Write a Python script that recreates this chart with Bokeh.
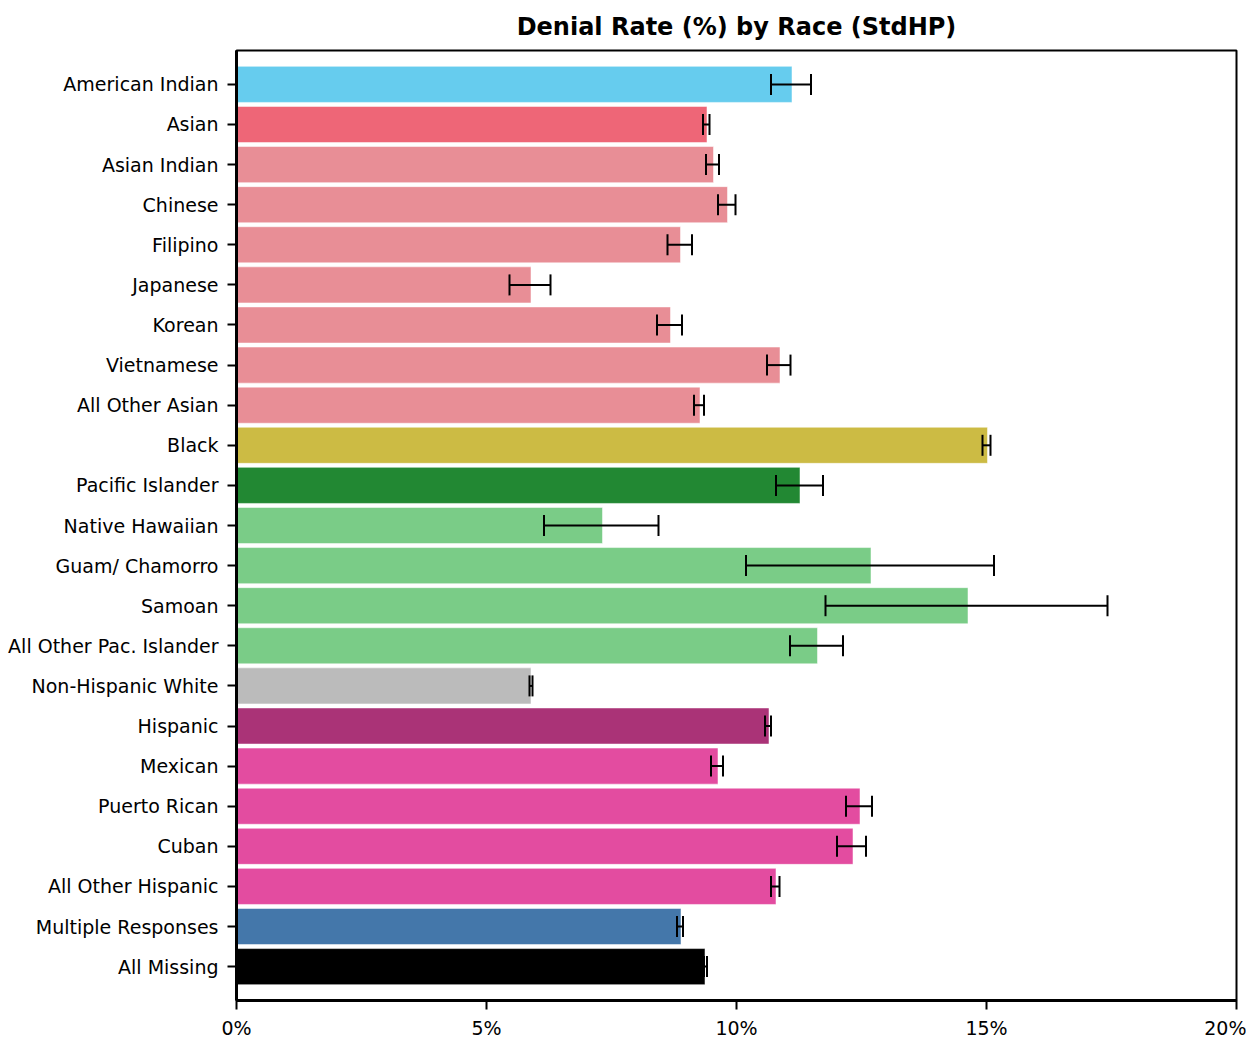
from bokeh.plotting import figure
from bokeh.models import ColumnDataSource, FactorRange, Range1d, Whisker, TeeHead, FixedTicker, PrintfTickFormatter
from bokeh.embed import file_html
from bokeh.resources import INLINE

races = ["American Indian", "Asian", "Asian Indian", "Chinese", "Filipino", "Japanese",
         "Korean", "Vietnamese", "All Other Asian", "Black", "Pacific Islander",
         "Native Hawaiian", "Guam/ Chamorro", "Samoan", "All Other Pac. Islander",
         "Non-Hispanic White", "Hispanic", "Mexican", "Puerto Rican", "Cuban",
         "All Other Hispanic", "Multiple Responses", "All Missing"]
rate = [11.11, 9.41, 9.54, 9.82, 8.88, 5.89, 8.68, 10.87, 9.27, 15.02, 11.27,
        7.32, 12.69, 14.63, 11.62, 5.89, 10.65, 9.63, 12.47, 12.33, 10.79, 8.89, 9.37]
err_lo = [10.69, 9.33, 9.39, 9.63, 8.62, 5.46, 8.41, 10.61, 9.15, 14.92, 10.79,
          6.15, 10.19, 11.78, 11.07, 5.86, 10.57, 9.49, 12.19, 12.01, 10.69, 8.81, 9.35]
err_hi = [11.49, 9.46, 9.65, 9.98, 9.11, 6.28, 8.91, 11.08, 9.35, 15.08, 11.73,
          8.44, 15.15, 17.42, 12.13, 5.92, 10.69, 9.73, 12.71, 12.59, 10.86, 8.93, 9.41]
colors = ["#66CCEE", "#EE6677", "#E88E96", "#E88E96", "#E88E96", "#E88E96",
          "#E88E96", "#E88E96", "#E88E96", "#CCBB44", "#228833",
          "#7ACC87", "#7ACC87", "#7ACC87", "#7ACC87",
          "#BBBBBB", "#AA3377", "#E34CA0", "#E34CA0", "#E34CA0",
          "#E34CA0", "#4477AA", "#000000"]
x_ticks = [0, 5, 10, 15, 20]

src = ColumnDataSource(dict(race=races, rate=rate, lo=err_lo, hi=err_hi, color=colors))

p = figure(width=1246, height=1045, output_backend="svg", toolbar_location=None,
           y_range=FactorRange(factors=list(reversed(races)), range_padding=0.03),
           x_range=Range1d(0, 20),
           title="Denial Rate (%) by Race (StdHP)")
p.min_border_left = 236
p.min_border_right = 10
p.min_border_top = 50
p.min_border_bottom = 45

p.hbar(y="race", right="rate", left=0, height=0.9, fill_color="color",
       line_color="white", line_alpha=0.5, line_width=1, source=src)

w = Whisker(base="race", lower="lo", upper="hi", dimension="width", source=src,
            line_color="black", line_width=2, level="overlay",
            upper_head=TeeHead(size=21, line_color="black", line_width=2),
            lower_head=TeeHead(size=21, line_color="black", line_width=2))
p.add_layout(w)

p.title.align = "center"
p.title.text_font = "DejaVu Sans"
p.title.text_font_size = "24px"
p.title.text_font_style = "bold"
p.title.text_color = "black"
p.title.standoff = 19

p.xgrid.visible = False
p.ygrid.visible = False
p.outline_line_color = "black"
p.outline_line_width = 2
p.outline_line_alpha = 1

p.xaxis.ticker = FixedTicker(ticks=x_ticks)
p.xaxis.formatter = PrintfTickFormatter(format="%d%%")
p.xaxis.minor_tick_line_color = None
for ax in (p.xaxis, p.yaxis):
    ax.axis_line_color = "black"
    ax.axis_line_width = 3
    ax.major_tick_line_color = "black"
    ax.major_tick_line_width = 2
    ax.major_tick_in = 0
    ax.major_label_text_font = "DejaVu Sans"
    ax.major_label_text_font_size = "19px"
    ax.major_label_text_color = "black"
p.xaxis.major_tick_out = 9
p.yaxis.major_tick_out = 9
p.xaxis.major_label_standoff = 7
p.yaxis.major_label_standoff = 9

open("out.html", "w").write(file_html(p, INLINE))
